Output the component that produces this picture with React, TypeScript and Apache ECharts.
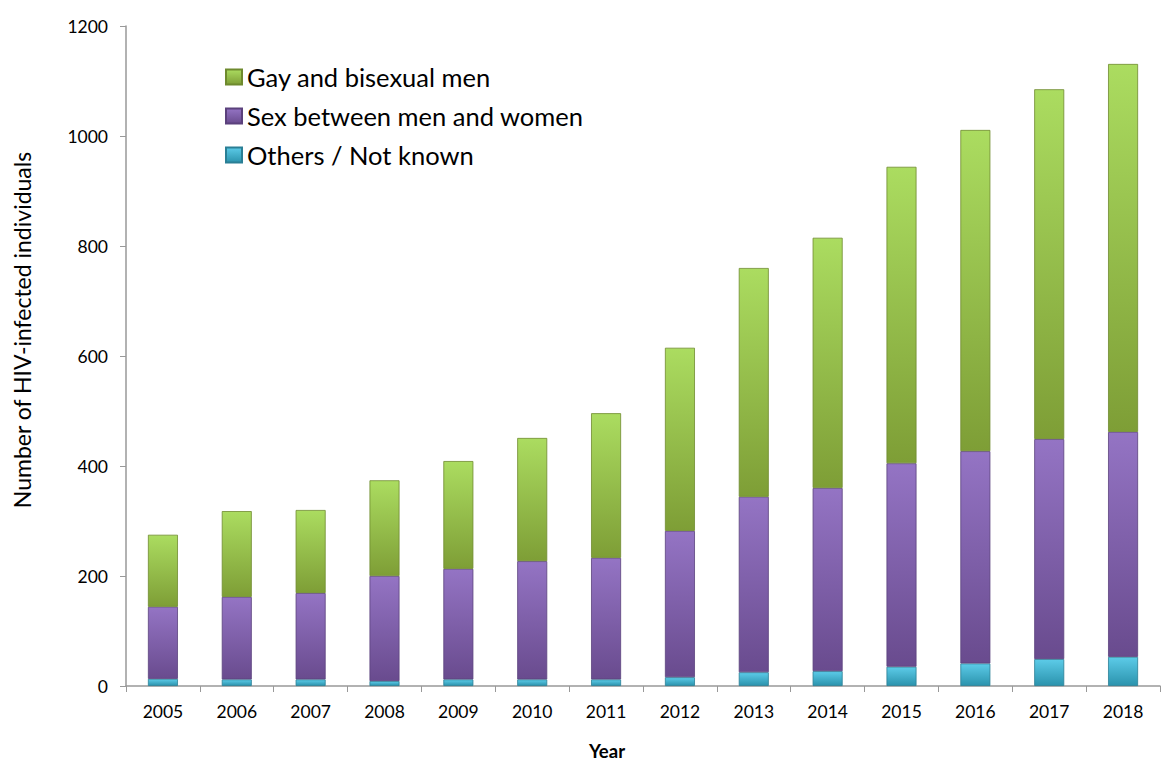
import React, { useEffect, useRef } from "react";
import * as echarts from "echarts";

const years = ["2005", "2006", "2007", "2008", "2009", "2010", "2011", "2012", "2013", "2014", "2015", "2016", "2017", "2018"];
const othersNotKnown = [13, 12, 12, 9, 12, 12, 12, 16, 25, 27, 35, 41, 49, 53];
const sexMenWomen = [131, 150, 157, 191, 201, 215, 221, 266, 319, 333, 370, 386, 400, 409];
const gayBisexualMen = [131, 156, 151, 174, 196, 224, 263, 333, 416, 455, 539, 584, 636, 669];

const FONT = "Lato, 'Open Sans', sans-serif";

const grad = (top: string, bottom: string) =>
  new echarts.graphic.LinearGradient(0, 0, 0, 1, [
    { offset: 0, color: top },
    { offset: 1, color: bottom },
  ]);

export default function App() {
  const ref = useRef<HTMLDivElement>(null);
  useEffect(() => {
    if (!ref.current) return;
    const chart = echarts.init(ref.current, undefined, { renderer: "svg" });
    chart.setOption({
      animation: false,
      backgroundColor: "#ffffff",
      grid: { left: 126, right: 3, top: 26, bottom: 75, containLabel: false },
      legend: {
        data: ["Gay and bisexual men", "Sex between men and women", "Others / Not known"],
        orient: "vertical",
        left: 220,
        top: 59,
        itemWidth: 16,
        itemHeight: 15,
        itemGap: 13,
        icon: "rect",
        textStyle: { fontFamily: FONT, fontSize: 25.5, color: "#000" },
      },
      xAxis: {
        type: "category",
        data: years,
        axisLine: { lineStyle: { color: "#999", width: 1.5 } },
        axisTick: { show: true, length: 6, alignWithLabel: false, lineStyle: { color: "#999" } },
        axisLabel: { fontFamily: FONT, fontSize: 17.5, color: "#000", margin: 16 },
      },
      yAxis: {
        type: "value",
        min: 0,
        max: 1200,
        interval: 200,
        splitLine: { show: false },
        axisLine: { show: true, lineStyle: { color: "#999", width: 1.5 } },
        axisTick: { show: true, length: 6, lineStyle: { color: "#999" } },
        axisLabel: { fontFamily: FONT, fontSize: 17.5, color: "#000", margin: 18, formatter: (v: number) => String(v) },
      },
      graphic: [
        {
          type: "text",
          x: 22,
          y: 330,
          rotation: Math.PI / 2,
          style: {
            text: "Number of HIV-infected individuals",
            fontFamily: FONT,
            fontSize: 23,
            fill: "#000",
            align: "center",
            verticalAlign: "middle",
          },
        },
        {
          type: "text",
          x: 607,
          y: 751,
          style: {
            text: "Year",
            fontFamily: FONT,
            fontSize: 18.5,
            fontWeight: "bold",
            fill: "#000",
            align: "center",
            verticalAlign: "middle",
          },
        },
      ],
      series: [
        {
          name: "Others / Not known",
          type: "bar",
          stack: "total",
          barWidth: 30,
          data: othersNotKnown,
          itemStyle: { color: grad("#5ccbe8", "#2b93ad"), borderColor: "#2a7f95", borderWidth: 0.8 },
        },
        {
          name: "Sex between men and women",
          type: "bar",
          stack: "total",
          barWidth: 30,
          data: sexMenWomen,
          itemStyle: { color: grad("#9474c4", "#694b8e"), borderColor: "#5b417c", borderWidth: 0.8 },
        },
        {
          name: "Gay and bisexual men",
          type: "bar",
          stack: "total",
          barWidth: 30,
          data: gayBisexualMen,
          itemStyle: { color: grad("#abdc60", "#7e9e36"), borderColor: "#6e8a2e", borderWidth: 0.8 },
        },
      ],
    });
    return () => chart.dispose();
  }, []);
  return <div ref={ref} style={{ width: 1163, height: 761, position: "absolute", left: 0, top: 0 }} />;
}
